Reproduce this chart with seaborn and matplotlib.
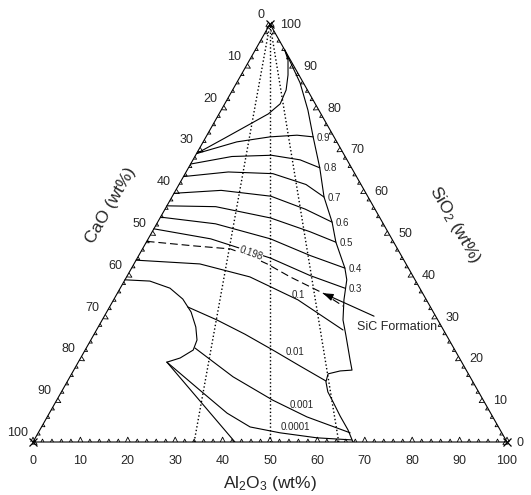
import numpy as np
import matplotlib
matplotlib.use("Agg")
import matplotlib.pyplot as plt
import seaborn as sns
from matplotlib.collections import LineCollection

sns.set_theme(style="white")
plt.rcParams["font.family"] = ["Liberation Sans", "DejaVu Sans"]
plt.rcParams["mathtext.fontset"] = "custom"
plt.rcParams["mathtext.rm"] = "Liberation Sans"
plt.rcParams["mathtext.it"] = "Liberation Sans:italic"

SQ = np.sqrt(3) / 2

# ---- compositions, wt% (Al2O3, SiO2); CaO is the balance ----
# SiO2-saturation boundary (upper left part)
sat_top_al = [0, 4.1, 7.8, 10.4, 11.7, 11.3, 9.9, 8.1, 6.2]
sat_top_si = [69, 72.7, 76.1, 78.5, 80.9, 84.2, 87.8, 91.4, 93.8]

# right-hand liquidus boundary
sat_right_al = [6.2, 13.4, 18.3, 22.6, 27.7, 32.1, 36.8, 40.0, 45.0, 46.8, 48.6,
                50.8, 53.2, 57.1, 58.7, 56.3, 54.1, 54.6, 56.2, 58.5, 61.7, 65.0, 67.5]
sat_right_si = [93.8, 85.9, 79.4, 73.0, 65.6, 58.6, 52.6, 47.8, 41.6, 38.8, 34.0,
                29.2, 25.6, 19.6, 17.2, 17.0, 16.3, 14.4, 12.0, 9.6, 6.2, 2.9, 0]

# lower-left boundary (bulge) and the tie line to the base
bulge_al = [0, 5.4, 10.5, 14.5, 17.8, 20.6, 22.4, 22.8, 21.0, 18.7]
bulge_si = [38.8, 38.5, 36.8, 34.2, 31.1, 27.5, 24.4, 22.0, 20.1, 19.1]
tie_al = [18.7, 42.6]
tie_si = [19.1, 0]

# SiO2 activity isolines
iso_levels = ["0.9", "0.8", "0.7", "0.6", "0.5", "0.4", "0.3"]
iso_09_al = [0, 7.1, 13.5, 19.0, 22.6]
iso_09_si = [69, 71.8, 73.0, 73.4, 73.0]
iso_08_al = [0, 7.8, 16.0, 22.6, 27.7]
iso_08_si = [66.5, 68.3, 68.6, 67.5, 65.6]
iso_07_al = [0, 8.9, 18.5, 26.8, 32.1]
iso_07_si = [63.5, 64.6, 64.2, 61.6, 58.6]
iso_06_al = [0, 9.6, 20.8, 29.6, 36.8]
iso_06_si = [59.5, 60.2, 58.8, 55.7, 52.6]
iso_05_al = [0, 10.4, 23.3, 33.3, 40.0]
iso_05_si = [56.5, 56.3, 53.6, 50.3, 47.8]
iso_04_al = [0, 12.4, 25.8, 36.2, 45.0]
iso_04_si = [53.8, 52.2, 48.6, 44.6, 41.6]
iso_03_al = [0, 13.2, 28.1, 38.6, 47.4]
iso_03_si = [51.0, 48.6, 44.0, 39.8, 36.8]

# SiC formation limit (a = 0.198)
iso_0198_al = [0, 10.7, 18.5, 23.5, 28.1, 34.5, 43.4, 49.2]
iso_0198_si = [48, 46.9, 46.2, 44.5, 42.6, 39.5, 35.6, 32.5]

iso_01_al = [0, 13.9, 26.0, 38.9, 52.0]
iso_01_si = [43.5, 42.6, 39.5, 34.0, 26.8]
iso_001_al = [16.5, 24.2, 31.8, 39.6, 47.2, 54.5]
iso_001_si = [32.3, 29.2, 25.8, 22.0, 18.2, 14.6]
iso_0001_al = [22.9, 34.4, 45.6, 54.8, 65.8]
iso_0001_si = [22.5, 15.6, 10.0, 6.0, 2.2]
iso_00001_al = [18.7, 29.0, 37.5, 44.0, 51.0, 59.4, 67.0]
iso_00001_si = [19.1, 12.4, 6.9, 3.6, 2.2, 1.0, 0.5]

# constant CaO/Al2O3 ratio lines, Al2O3 at the SiO2-free base
ratio_base_al = [34, 50, 64.5]

tick_values = list(range(0, 101, 10))


def tern(al, si):
    al = np.asarray(al, float)
    si = np.asarray(si, float)
    return al + si / 2, si * SQ


fig = plt.figure(figsize=(5.31, 4.95), dpi=100)
ax = fig.add_axes([33 / 531, 53 / 495, 474 / 531, 418 / 495])
ax.set_xlim(0, 100)
ax.set_ylim(0, 100 * SQ)
ax.axis("off")

LW = 0.8


def curve(al, si, **kw):
    x, y = tern(al, si)
    sns.lineplot(x=x, y=y, sort=False, estimator=None, color="black",
                 lw=kw.pop("lw", LW), ax=ax, **kw)
    return x, y


# triangle frame
frame_x, frame_y = tern([0, 100, 0, 0], [0, 0, 100, 0])
ax.plot(frame_x, frame_y, color="black", lw=LW, clip_on=False)
ax.plot(frame_x[:3], frame_y[:3], ls="none", marker="x", ms=6, mew=0.9,
        color="black", clip_on=False)

# ticks (small inward chevrons every 2 wt%)
segs = []
for v in range(0, 101, 2):
    big = v % 10 == 0
    w, h = (0.5, 1.0) if big else (0.32, 0.6)
    # bottom edge: Al2O3
    p = np.array([v, 0.0]); e = np.array([1.0, 0.0]); n = np.array([0.0, 1.0])
    segs.append([p - w * e, p + h * n, p + w * e])
    # left edge: CaO
    p = np.array([50 - v / 2, SQ * (100 - v)]); e = np.array([0.5, SQ]); n = np.array([SQ, -0.5])
    segs.append([p - w * e, p + h * n, p + w * e])
    # right edge: SiO2
    p = np.array([100 - v / 2, SQ * v]); e = np.array([-0.5, SQ]); n = np.array([-SQ, -0.5])
    segs.append([p - w * e, p + h * n, p + w * e])
ax.add_collection(LineCollection(segs, colors="black", linewidths=0.6, clip_on=False))

# tick labels
for v in tick_values:
    ax.annotate(str(v), xy=(v, 0), xytext=(0, -14), textcoords="offset points",
                ha="center", va="center", fontsize=9, annotation_clip=False)
    ax.annotate(str(v), xy=(50 - v / 2, SQ * (100 - v)), xytext=(-3.6, 6.5),
                textcoords="offset points", ha="right", va="center", fontsize=9,
                annotation_clip=False)
    ax.annotate(str(v), xy=(100 - v / 2, SQ * v), xytext=(7, -0.7),
                textcoords="offset points", ha="left", va="center", fontsize=9,
                annotation_clip=False)

# axis titles
ax.annotate("Al$_2$O$_3$ (wt%)", xy=(50, 0), xytext=(0, -30), textcoords="offset points",
            ha="center", va="center", fontsize=12.5, annotation_clip=False)
ax.text(*tern(-12, 56.7), "CaO (wt%)", rotation=60, ha="center", va="center",
        fontsize=12.5, clip_on=False)
ax.text(*tern(63, 52), "SiO$_2$ (wt%)", rotation=-60, ha="center", va="center",
        fontsize=12.5, clip_on=False)

# constant-ratio lines through the SiO2 corner
for a in ratio_base_al:
    curve([a, 0], [0, 100], ls=":", lw=1.0)

# phase boundaries
curve(sat_top_al, sat_top_si)
curve(sat_right_al, sat_right_si)
curve(bulge_al, bulge_si)
curve(tie_al, tie_si)

iso_upper = [(iso_09_al, iso_09_si), (iso_08_al, iso_08_si), (iso_07_al, iso_07_si),
             (iso_06_al, iso_06_si), (iso_05_al, iso_05_si), (iso_04_al, iso_04_si),
             (iso_03_al, iso_03_si)]
for lab, (al, si) in zip(iso_levels, iso_upper):
    x, y = curve(al, si)
    ax.annotate(lab, xy=(x[-1], y[-1]), xytext=(2.5, -0.5), textcoords="offset points",
                ha="left", va="center", fontsize=7)

dx, dy = tern(iso_0198_al, iso_0198_si)
sns.lineplot(x=dx, y=dy, sort=False, estimator=None, color="black", lw=LW,
             ax=ax).lines[-1].set_dashes((7, 3.5))
# inline label breaking the dashed line
ax.text(*tern(23.3, 45.2), "0.198", rotation=-20, ha="center", va="center", fontsize=7,
        bbox=dict(facecolor="white", edgecolor="none", pad=0.3), zorder=5)

curve(iso_01_al, iso_01_si)
curve(iso_001_al, iso_001_si)
curve(iso_0001_al, iso_0001_si)
curve(iso_00001_al, iso_00001_si)
ax.text(*tern(38.3, 35.2), "0.1", ha="center", va="center", fontsize=7)
ax.text(*tern(44.5, 21.5), "0.01", ha="center", va="center", fontsize=7)
ax.text(*tern(52.3, 8.9), "0.001", ha="center", va="center", fontsize=7)
ax.text(*tern(53.5, 3.6), "0.0001", ha="center", va="center", fontsize=7)

# SiC formation pointer
ax.annotate("", xy=tern(43.4, 35.6), xytext=tern(56.9, 30.1),
            arrowprops=dict(arrowstyle="-|>,head_length=0.5,head_width=0.18",
                            color="black", lw=0.8, shrinkA=0, shrinkB=0))
ax.text(*tern(54.6, 27.5), "SiC Formation", ha="left", va="center", fontsize=9)

fig.savefig("out.png", dpi=100)
